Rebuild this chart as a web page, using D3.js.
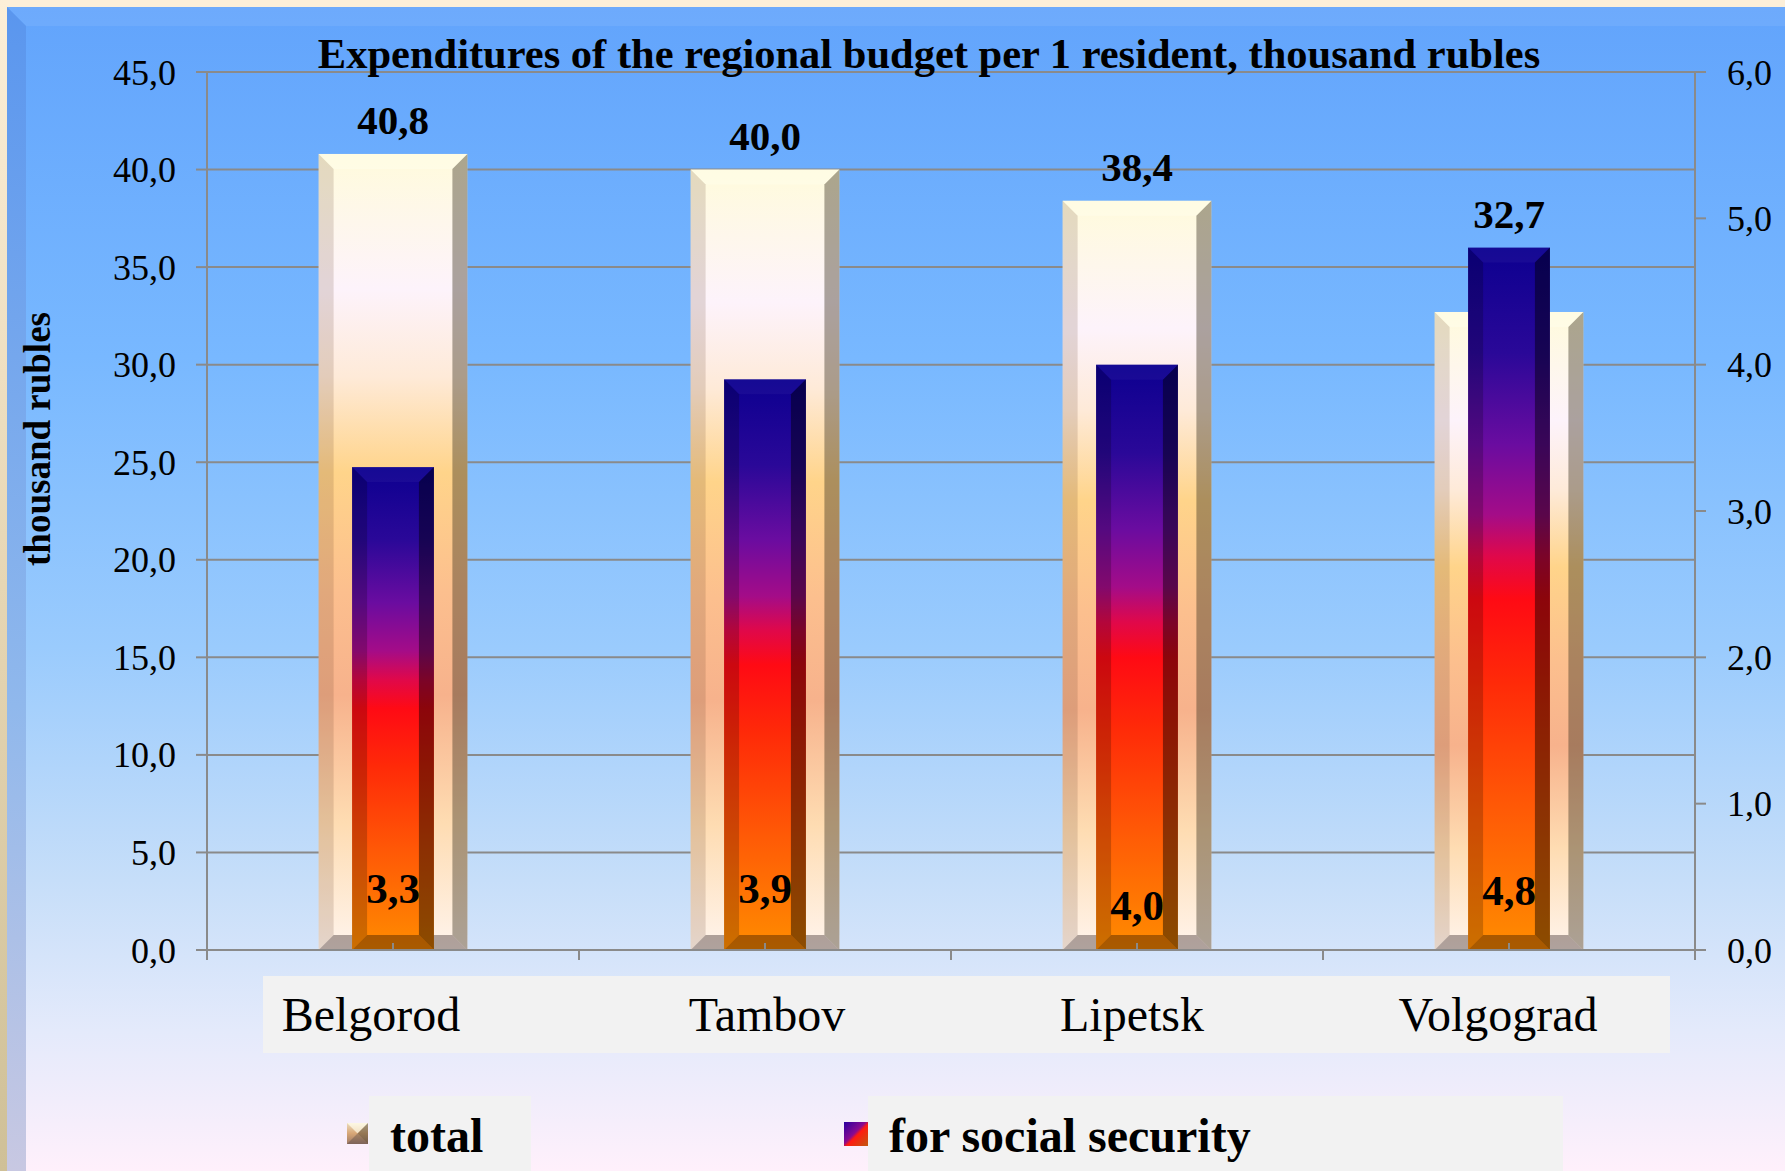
<!DOCTYPE html>
<meta charset="utf-8">
<title>Expenditures of the regional budget per 1 resident</title>
<script src="https://d3js.org/d3.v7.min.js"></script>
<style>
  html, body { margin: 0; padding: 0; background: #fcefd9; }
  svg { display: block; font-family: "Liberation Serif", "Times New Roman", serif; }
</style>
<body>
<svg class=chart></svg>
<script>

var regions = ["Belgorod", "Tambov", "Lipetsk", "Volgograd"];
var totalValues = [40.8, 40.0, 38.4, 32.7];
var socialValues = [3.3, 3.9, 4.0, 4.8];
var leftTicks = [0, 5, 10, 15, 20, 25, 30, 35, 40, 45];
var rightTicks = [0, 1, 2, 3, 4, 5, 6];
var seriesNames = ["total", "for social security"];

var width = 1785, height = 1171;
var plot = {left: 207, right: 1695, top: 72, bottom: 950};
var bevel = 15;
// labels in the original are not all on one line / centred on the bar
var socialLabelNudge = [0, 0, 17, 2];
var categoryLabelNudge = [-22, 2, -5, -11];

var fmt = function(v) { return d3.format(".1f")(v).replace(".", ","); };

var svg = d3.select(".chart")
  .attr("width", width)
  .attr("height", height);

var defs = svg.append("defs");

function gradient(id, stops, x2, y2) {
  var g = defs.append("linearGradient")
    .attr("id", id)
    .attr("x1", 0).attr("y1", 0)
    .attr("x2", x2 || 0).attr("y2", y2 === undefined ? 1 : y2);
  stops.forEach(function(s) {
    g.append("stop").attr("offset", s[0]).attr("stop-color", s[1]);
  });
}

gradient("bg", [[0, "#62a4fc"], [0.3, "#78b8ff"], [0.55, "#9acbfd"], [0.75, "#c6def9"], [0.88, "#e4eafb"], [1, "#fff0fb"]]);
gradient("frameLeft", [[0, "#fcefd8"], [0.5, "#e6d6b4"], [1, "#cfc097"]]);
gradient("bevelLeft", [[0, "#5a96ee"], [0.6, "#90b8ec"], [1, "#c8c8e2"]]);
gradient("totalFill", [[0, "#fffbdc"], [0.17, "#fdf3fb"], [0.28, "#feead8"], [0.4, "#ffd48a"],
  [0.55, "#fcbf8e"], [0.68, "#f7b28c"], [0.84, "#fedcb2"], [1, "#fff4ec"]]);
gradient("socialFill", [[0, "#0c0090"], [0.15, "#2a0898"], [0.28, "#6a0ca0"], [0.38, "#a40c88"],
  [0.44, "#e0084a"], [0.5, "#ff0a14"], [0.62, "#ff2a08"], [0.8, "#ff5a06"], [1, "#ff8c00"]]);
gradient("legendTotal", [[0, "#f8ecd0"], [0.5, "#e0b080"], [1, "#a08070"]], 0, 1);
gradient("legendSocial", [[0, "#2a00a0"], [0.45, "#8a0a90"], [0.55, "#ff1a10"], [1, "#c05a10"]], 1, 1);

// frame and panel
svg.append("rect").attr("x", 0).attr("y", 0).attr("width", width).attr("height", height).attr("fill", "#fcefd9");
svg.append("rect").attr("x", 0).attr("y", 0).attr("width", 7).attr("height", height).attr("fill", "url(#frameLeft)");
svg.append("rect").attr("x", 7).attr("y", 7).attr("width", width - 7).attr("height", height - 7).attr("fill", "url(#bg)");
svg.append("polygon")
  .attr("points", [[7, 7], [width, 7], [width, 26], [26, 26]].join(" "))
  .attr("fill", "#ffffff").attr("opacity", 0.07);
svg.append("polygon")
  .attr("points", [[7, 7], [26, 26], [26, height], [7, height]].join(" "))
  .attr("fill", "url(#bevelLeft)");

var x = d3.scaleBand()
  .domain(regions)
  .range([plot.left, plot.right]);

var yLeft = d3.scaleLinear()
  .domain([0, 45])
  .range([plot.bottom, plot.top]);

var yRight = d3.scaleLinear()
  .domain([0, 6])
  .range([plot.bottom, plot.top]);

// grid
svg.append("g")
  .selectAll("line")
  .data(leftTicks.slice(1))
  .enter().append("line")
    .attr("x1", plot.left).attr("x2", plot.right)
    .attr("y1", function(d) { return yLeft(d); })
    .attr("y2", function(d) { return yLeft(d); })
    .attr("stroke", "#8a8a8a").attr("stroke-width", 2);

// bars with bevelled edges
function bevelBar(g, bx, by, bw, bh, fill, b, shade) {
  g.append("rect").attr("x", bx).attr("y", by).attr("width", bw).attr("height", bh).attr("fill", fill);
  var faces = [
    {pts: [[bx, by], [bx + bw, by], [bx + bw - b, by + b], [bx + b, by + b]], c: shade[0]},
    {pts: [[bx, by], [bx + b, by + b], [bx + b, by + bh - b], [bx, by + bh]], c: shade[1]},
    {pts: [[bx + bw, by], [bx + bw, by + bh], [bx + bw - b, by + bh - b], [bx + bw - b, by + b]], c: shade[2]},
    {pts: [[bx, by + bh], [bx + b, by + bh - b], [bx + bw - b, by + bh - b], [bx + bw, by + bh]], c: shade[3]}
  ];
  faces.forEach(function(f) {
    g.append("polygon")
      .attr("points", f.pts.join(" "))
      .attr("fill", f.c[0])
      .attr("opacity", f.c[1]);
  });
}

var totalW = x.bandwidth() * 0.4;
var socialW = x.bandwidth() * 0.22;

var bars = svg.append("g");
regions.forEach(function(r, i) {
  var cx = x(r) + x.bandwidth() / 2;
  var yt = yLeft(totalValues[i]);
  bevelBar(bars, cx - totalW / 2, yt, totalW, plot.bottom - yt, "url(#totalFill)", bevel,
    [["#fffff0", 0.35], ["#5a3020", 0.16], ["#3a3020", 0.42], ["#403030", 0.42]]);
  var ys = yRight(socialValues[i]);
  bevelBar(bars, cx - socialW / 2, ys, socialW, plot.bottom - ys, "url(#socialFill)", bevel,
    [["#ffffff", 0.04], ["#000000", 0.2], ["#000000", 0.45], ["#402000", 0.45]]);
});

// axes
var axisColor = "#8a8a8a";
var axes = svg.append("g").attr("stroke", axisColor).attr("stroke-width", 2);
axes.append("line").attr("x1", plot.left).attr("x2", plot.left).attr("y1", plot.top).attr("y2", plot.bottom + 10);
axes.append("line").attr("x1", plot.right).attr("x2", plot.right).attr("y1", plot.top).attr("y2", plot.bottom + 10);
axes.append("line").attr("x1", plot.left).attr("x2", plot.right).attr("y1", plot.bottom).attr("y2", plot.bottom);
axes.append("line").attr("x1", plot.left).attr("x2", plot.right).attr("y1", plot.top).attr("y2", plot.top);
axes.selectAll(".lt").data(leftTicks).enter().append("line")
  .attr("x1", plot.left - 11).attr("x2", plot.left)
  .attr("y1", function(d) { return yLeft(d); }).attr("y2", function(d) { return yLeft(d); });
axes.selectAll(".rt").data(rightTicks).enter().append("line")
  .attr("x1", plot.right).attr("x2", plot.right + 11)
  .attr("y1", function(d) { return yRight(d); }).attr("y2", function(d) { return yRight(d); });
axes.selectAll(".bt").data(regions.concat([null])).enter().append("line")
  .attr("x1", function(d) { return d ? x(d) : plot.right; })
  .attr("x2", function(d) { return d ? x(d) : plot.right; })
  .attr("y1", plot.bottom).attr("y2", plot.bottom + 10);
axes.selectAll(".mt").data(regions).enter().append("line")
  .attr("x1", function(d) { return x(d) + x.bandwidth() / 2; })
  .attr("x2", function(d) { return x(d) + x.bandwidth() / 2; })
  .attr("y1", plot.bottom).attr("y2", plot.bottom - 7);

svg.append("g").selectAll("text")
  .data(leftTicks)
  .enter().append("text")
    .attr("x", 176)
    .attr("y", function(d) { return yLeft(d); })
    .attr("dy", "0.35em")
    .attr("text-anchor", "end")
    .attr("font-size", 36)
    .text(fmt);

svg.append("g").selectAll("text")
  .data(rightTicks)
  .enter().append("text")
    .attr("x", 1727)
    .attr("y", function(d) { return yRight(d); })
    .attr("dy", "0.35em")
    .attr("font-size", 36)
    .text(fmt);

// value labels
svg.append("g").selectAll("text")
  .data(regions)
  .enter().append("text")
    .attr("x", function(d) { return x(d) + x.bandwidth() / 2; })
    .attr("y", function(d, i) { return Math.min(yLeft(totalValues[i]), yRight(socialValues[i])) - 20; })
    .attr("text-anchor", "middle")
    .attr("font-size", 41)
    .attr("font-weight", "bold")
    .text(function(d, i) { return fmt(totalValues[i]); });

svg.append("g").selectAll("text")
  .data(regions)
  .enter().append("text")
    .attr("x", function(d) { return x(d) + x.bandwidth() / 2; })
    .attr("y", function(d, i) { return plot.bottom - 47 + socialLabelNudge[i]; })
    .attr("text-anchor", "middle")
    .attr("font-size", 43)
    .attr("font-weight", "bold")
    .text(function(d, i) { return fmt(socialValues[i]); });

// category labels
svg.append("rect").attr("x", 263).attr("y", 976).attr("width", 1407).attr("height", 77).attr("fill", "#f2f2f2");
svg.append("g").selectAll("text")
  .data(regions)
  .enter().append("text")
    .attr("x", function(d, i) { return x(d) + x.bandwidth() / 2 + categoryLabelNudge[i]; })
    .attr("y", 1031)
    .attr("text-anchor", "middle")
    .attr("font-size", 48)
    .text(function(d) { return d; });

// title
svg.append("text")
  .attr("x", 929)
  .attr("y", 68)
  .attr("text-anchor", "middle")
  .attr("font-size", 42.5)
  .attr("font-weight", "bold")
  .text("Expenditures of the regional budget per 1 resident, thousand rubles");

svg.append("text")
  .attr("transform", "translate(50,439) rotate(-90)")
  .attr("text-anchor", "middle")
  .attr("font-size", 37)
  .attr("font-weight", "bold")
  .text("thousand rubles");

// legend
var legend = svg.append("g");
legend.append("rect").attr("x", 369).attr("y", 1096).attr("width", 162).attr("height", 75).attr("fill", "#f2f2f2");
legend.append("rect").attr("x", 868).attr("y", 1096).attr("width", 695).attr("height", 75).attr("fill", "#f2f2f2");
bevelBar(legend, 347, 1123, 21, 21, "url(#legendTotal)", 10.5,
  [["#fffff0", 0.6], ["#8a5020", 0.1], ["#3a3020", 0.45], ["#403030", 0.35]]);
bevelBar(legend, 844, 1122, 24, 24, "url(#legendSocial)", 0,
  [["#fff", 0], ["#000", 0], ["#000", 0], ["#000", 0]]);
legend.selectAll("text")
  .data(seriesNames)
  .enter().append("text")
    .attr("x", function(d, i) { return i ? 889 : 390; })
    .attr("y", 1152)
    .attr("font-size", 48)
    .attr("font-weight", "bold")
    .text(function(d) { return d; });

</script>
</body>
